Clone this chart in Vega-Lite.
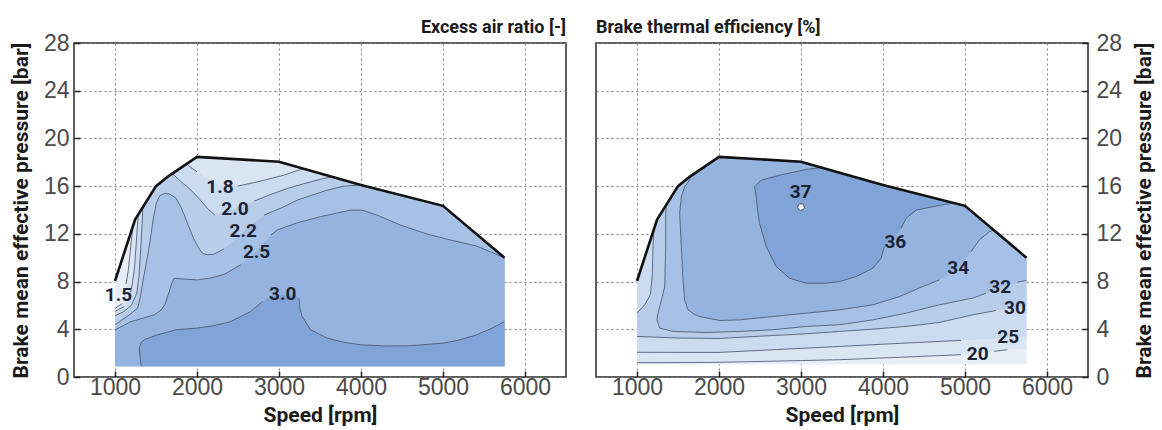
{
  "$schema": "https://vega.github.io/schema/vega-lite/v6.json",
  "background": "white",
  "padding": {"left": 9, "top": 18, "right": 10, "bottom": 0},
  "autosize": {"type": "pad"},
  "config": {
    "view": {"stroke": "#2a2a2a", "strokeWidth": 1.5},
    "axis": {
      "grid": true, "gridColor": "#808080", "gridDash": [2, 3], "gridWidth": 1,
      "domain": false, "ticks": true, "tickSize": -6, "tickColor": "#222222", "tickWidth": 1.5,
      "labelFont": "Liberation Sans", "labelFontSize": 23, "labelColor": "#4a4a4a", "labelFontWeight": "normal",
      "titleFont": "Roboto", "titleFontSize": 21, "titleFontWeight": "bold", "titleColor": "#1a1a1a",
      "zindex": 1
    },
    "title": {"font": "Roboto", "fontSize": 18, "fontWeight": "bold", "color": "#1a1a1a", "frame": "group"}
  },
  "datasets": {
    "pl": [
      {"p":"L0","o":0,"x":1000,"y":0.9},{"p":"L0","o":1,"x":1000,"y":8.05},{"p":"L0","o":2,"x":1245,"y":13.2},{"p":"L0","o":3,"x":1500,"y":16.0},{"p":"L0","o":4,"x":1645,"y":16.8},{"p":"L0","o":5,"x":2000,"y":18.45},{"p":"L0","o":6,"x":3000,"y":18.05},{"p":"L0","o":7,"x":4000,"y":16.1},{"p":"L0","o":8,"x":5000,"y":14.35},{"p":"L0","o":9,"x":5750,"y":10.0},{"p":"L0","o":10,"x":5750,"y":0.9},

      {"p":"L1","o":0,"x":1000,"y":0.9},{"p":"L1","o":1,"x":1000,"y":5.75},{"p":"L1","o":2,"x":1090,"y":6.15},{"p":"L1","o":3,"x":1120,"y":7.0},{"p":"L1","o":4,"x":1140,"y":8.2},{"p":"L1","o":5,"x":1163,"y":9.0},{"p":"L1","o":6,"x":1185,"y":10.5},{"p":"L1","o":7,"x":1205,"y":11.8},{"p":"L1","o":8,"x":1225,"y":12.78},{"p":"L1","o":9,"x":1245,"y":13.2},{"p":"L1","o":10,"x":1500,"y":16.0},{"p":"L1","o":11,"x":1645,"y":16.8},{"p":"L1","o":12,"x":2000,"y":18.45},{"p":"L1","o":13,"x":3000,"y":18.05},{"p":"L1","o":14,"x":4000,"y":16.1},{"p":"L1","o":15,"x":5000,"y":14.35},{"p":"L1","o":16,"x":5750,"y":10.0},{"p":"L1","o":17,"x":5750,"y":0.9},

      {"p":"L2","o":0,"x":1000,"y":0.9},{"p":"L2","o":1,"x":1000,"y":5.5},{"p":"L2","o":2,"x":1110,"y":5.9},{"p":"L2","o":3,"x":1170,"y":6.6},{"p":"L2","o":4,"x":1210,"y":7.8},{"p":"L2","o":5,"x":1236,"y":9.0},{"p":"L2","o":6,"x":1256,"y":10.9},{"p":"L2","o":7,"x":1272,"y":12.5},{"p":"L2","o":8,"x":1285,"y":13.64},{"p":"L2","o":9,"x":1500,"y":16.0},{"p":"L2","o":10,"x":1645,"y":16.8},{"p":"L2","o":11,"x":1870,"y":17.85},{"p":"L2","o":12,"x":2000,"y":17.2},{"p":"L2","o":13,"x":2100,"y":16.7},{"p":"L2","o":14,"x":2270,"y":16.1},{"p":"L2","o":15,"x":2493,"y":16.0},{"p":"L2","o":16,"x":2736,"y":16.36},{"p":"L2","o":17,"x":3060,"y":16.92},{"p":"L2","o":18,"x":3243,"y":17.35},{"p":"L2","o":19,"x":3300,"y":17.47},{"p":"L2","o":20,"x":4000,"y":16.1},{"p":"L2","o":21,"x":5000,"y":14.35},{"p":"L2","o":22,"x":5750,"y":10.0},{"p":"L2","o":23,"x":5750,"y":0.9},

      {"p":"L3","o":0,"x":1000,"y":0.9},{"p":"L3","o":1,"x":1000,"y":5.15},{"p":"L3","o":2,"x":1100,"y":5.45},{"p":"L3","o":3,"x":1200,"y":6.0},{"p":"L3","o":4,"x":1265,"y":7.0},{"p":"L3","o":5,"x":1292,"y":8.4},{"p":"L3","o":6,"x":1315,"y":10.9},{"p":"L3","o":7,"x":1332,"y":13.0},{"p":"L3","o":8,"x":1340,"y":14.24},{"p":"L3","o":9,"x":1500,"y":16.0},{"p":"L3","o":10,"x":1645,"y":16.8},{"p":"L3","o":11,"x":1700,"y":17.06},{"p":"L3","o":12,"x":1722,"y":16.92},{"p":"L3","o":13,"x":1800,"y":16.4},{"p":"L3","o":14,"x":1884,"y":15.94},{"p":"L3","o":15,"x":2006,"y":15.1},{"p":"L3","o":16,"x":2128,"y":14.13},{"p":"L3","o":17,"x":2217,"y":13.57},{"p":"L3","o":18,"x":2452,"y":14.1},{"p":"L3","o":19,"x":2695,"y":14.74},{"p":"L3","o":20,"x":2898,"y":15.3},{"p":"L3","o":21,"x":3100,"y":15.8},{"p":"L3","o":22,"x":3300,"y":16.2},{"p":"L3","o":23,"x":3547,"y":16.65},{"p":"L3","o":24,"x":3650,"y":16.78},{"p":"L3","o":25,"x":4000,"y":16.1},{"p":"L3","o":26,"x":5000,"y":14.35},{"p":"L3","o":27,"x":5750,"y":10.0},{"p":"L3","o":28,"x":5750,"y":0.9},

      {"p":"L4","o":0,"x":1000,"y":0.9},{"p":"L4","o":1,"x":1000,"y":4.4},{"p":"L4","o":2,"x":1032,"y":4.52},{"p":"L4","o":3,"x":1174,"y":5.21},{"p":"L4","o":4,"x":1276,"y":5.77},{"p":"L4","o":5,"x":1305,"y":6.6},{"p":"L4","o":6,"x":1340,"y":8.0},{"p":"L4","o":7,"x":1385,"y":9.7},{"p":"L4","o":8,"x":1425,"y":11.3},{"p":"L4","o":9,"x":1465,"y":13.2},{"p":"L4","o":10,"x":1505,"y":14.6},{"p":"L4","o":11,"x":1545,"y":15.2},{"p":"L4","o":12,"x":1600,"y":15.38},{"p":"L4","o":13,"x":1660,"y":15.35},{"p":"L4","o":14,"x":1743,"y":15.0},{"p":"L4","o":15,"x":1800,"y":14.3},{"p":"L4","o":16,"x":1844,"y":13.6},{"p":"L4","o":17,"x":1900,"y":12.6},{"p":"L4","o":18,"x":1960,"y":11.6},{"p":"L4","o":19,"x":2020,"y":10.8},{"p":"L4","o":20,"x":2070,"y":10.35},{"p":"L4","o":21,"x":2120,"y":10.25},{"p":"L4","o":22,"x":2209,"y":10.3},{"p":"L4","o":23,"x":2331,"y":10.75},{"p":"L4","o":24,"x":2574,"y":12.2},{"p":"L4","o":25,"x":2817,"y":13.57},{"p":"L4","o":26,"x":3060,"y":14.27},{"p":"L4","o":27,"x":3222,"y":14.83},{"p":"L4","o":28,"x":3587,"y":15.66},{"p":"L4","o":29,"x":3790,"y":16.0},{"p":"L4","o":30,"x":4000,"y":16.1},{"p":"L4","o":31,"x":5000,"y":14.35},{"p":"L4","o":32,"x":5750,"y":10.0},{"p":"L4","o":33,"x":5750,"y":0.9},

      {"p":"L5","o":0,"x":1000,"y":0.9},{"p":"L5","o":1,"x":1000,"y":3.96},{"p":"L5","o":2,"x":1100,"y":4.3},{"p":"L5","o":3,"x":1195,"y":4.65},{"p":"L5","o":4,"x":1350,"y":4.95},{"p":"L5","o":5,"x":1479,"y":5.21},{"p":"L5","o":6,"x":1560,"y":5.6},{"p":"L5","o":7,"x":1610,"y":6.1},{"p":"L5","o":8,"x":1645,"y":6.8},{"p":"L5","o":9,"x":1690,"y":7.8},{"p":"L5","o":10,"x":1722,"y":8.28},{"p":"L5","o":11,"x":1850,"y":8.2},{"p":"L5","o":12,"x":2006,"y":8.14},{"p":"L5","o":13,"x":2170,"y":8.3},{"p":"L5","o":14,"x":2331,"y":8.6},{"p":"L5","o":15,"x":2533,"y":9.4},{"p":"L5","o":16,"x":2716,"y":10.5},{"p":"L5","o":17,"x":2900,"y":11.9},{"p":"L5","o":18,"x":2979,"y":12.32},{"p":"L5","o":19,"x":3222,"y":12.93},{"p":"L5","o":20,"x":3506,"y":13.44},{"p":"L5","o":21,"x":3871,"y":13.99},{"p":"L5","o":22,"x":4013,"y":13.99},{"p":"L5","o":23,"x":4196,"y":13.57},{"p":"L5","o":24,"x":4479,"y":12.74},{"p":"L5","o":25,"x":4804,"y":11.99},{"p":"L5","o":26,"x":5088,"y":11.49},{"p":"L5","o":27,"x":5412,"y":10.98},{"p":"L5","o":28,"x":5750,"y":10.0},{"p":"L5","o":29,"x":5750,"y":0.9},

      {"p":"L6","o":0,"x":1317,"y":0.9},{"p":"L6","o":1,"x":1317,"y":1.03},{"p":"L6","o":2,"x":1300,"y":2.0},{"p":"L6","o":3,"x":1296,"y":2.42},{"p":"L6","o":4,"x":1320,"y":2.9},{"p":"L6","o":5,"x":1357,"y":3.12},{"p":"L6","o":6,"x":1500,"y":3.5},{"p":"L6","o":7,"x":1743,"y":3.96},{"p":"L6","o":8,"x":2006,"y":4.1},{"p":"L6","o":9,"x":2200,"y":4.3},{"p":"L6","o":10,"x":2412,"y":4.65},{"p":"L6","o":11,"x":2655,"y":5.49},{"p":"L6","o":12,"x":2797,"y":6.33},{"p":"L6","o":13,"x":2900,"y":6.8},{"p":"L6","o":14,"x":3050,"y":6.9},{"p":"L6","o":15,"x":3200,"y":6.85},{"p":"L6","o":16,"x":3243,"y":6.6},{"p":"L6","o":17,"x":3255,"y":5.77},{"p":"L6","o":18,"x":3283,"y":5.07},{"p":"L6","o":19,"x":3385,"y":3.96},{"p":"L6","o":20,"x":3587,"y":3.26},{"p":"L6","o":21,"x":3800,"y":2.9},{"p":"L6","o":22,"x":3993,"y":2.7},{"p":"L6","o":23,"x":4300,"y":2.6},{"p":"L6","o":24,"x":4601,"y":2.62},{"p":"L6","o":25,"x":5007,"y":2.84},{"p":"L6","o":26,"x":5200,"y":3.1},{"p":"L6","o":27,"x":5412,"y":3.54},{"p":"L6","o":28,"x":5600,"y":4.1},{"p":"L6","o":29,"x":5750,"y":4.66},{"p":"L6","o":30,"x":5750,"y":0.9}
    ],
    "ll": [
      {"s":"a1","o":0,"x":1000,"y":5.75},{"s":"a1","o":1,"x":1090,"y":6.15},
      {"s":"a2","o":0,"x":1135,"y":7.8},{"s":"a2","o":1,"x":1163,"y":9.0},{"s":"a2","o":2,"x":1185,"y":10.5},{"s":"a2","o":3,"x":1205,"y":11.8},{"s":"a2","o":4,"x":1225,"y":12.78},
      {"s":"b1","o":0,"x":1000,"y":5.5},{"s":"b1","o":1,"x":1110,"y":5.9},
      {"s":"b2","o":0,"x":1190,"y":7.1},{"s":"b2","o":1,"x":1210,"y":7.8},{"s":"b2","o":2,"x":1236,"y":9.0},{"s":"b2","o":3,"x":1256,"y":10.9},{"s":"b2","o":4,"x":1272,"y":12.5},{"s":"b2","o":5,"x":1285,"y":13.64},
      {"s":"c","o":0,"x":1000,"y":5.15},{"s":"c","o":1,"x":1100,"y":5.45},{"s":"c","o":2,"x":1200,"y":6.0},{"s":"c","o":3,"x":1265,"y":7.0},{"s":"c","o":4,"x":1292,"y":8.4},{"s":"c","o":5,"x":1315,"y":10.9},{"s":"c","o":6,"x":1332,"y":13.0},{"s":"c","o":7,"x":1340,"y":14.24},
      {"s":"f1","o":0,"x":1870,"y":17.85},{"s":"f1","o":1,"x":2000,"y":17.2},
      {"s":"f2","o":0,"x":2493,"y":16.0},{"s":"f2","o":1,"x":2736,"y":16.36},{"s":"f2","o":2,"x":3060,"y":16.92},{"s":"f2","o":3,"x":3243,"y":17.35},{"s":"f2","o":4,"x":3300,"y":17.47},
      {"s":"e1","o":0,"x":1700,"y":17.06},{"s":"e1","o":1,"x":1722,"y":16.92},{"s":"e1","o":2,"x":1800,"y":16.4},{"s":"e1","o":3,"x":1884,"y":15.94},{"s":"e1","o":4,"x":2006,"y":15.1},{"s":"e1","o":5,"x":2128,"y":14.13},{"s":"e1","o":6,"x":2217,"y":13.57},
      {"s":"e2","o":0,"x":2695,"y":14.74},{"s":"e2","o":1,"x":2898,"y":15.3},{"s":"e2","o":2,"x":3100,"y":15.8},{"s":"e2","o":3,"x":3300,"y":16.2},{"s":"e2","o":4,"x":3547,"y":16.65},{"s":"e2","o":5,"x":3650,"y":16.78},
      {"s":"g1","o":0,"x":1000,"y":4.4},{"s":"g1","o":1,"x":1032,"y":4.52},{"s":"g1","o":2,"x":1174,"y":5.21},{"s":"g1","o":3,"x":1276,"y":5.77},{"s":"g1","o":4,"x":1305,"y":6.6},{"s":"g1","o":5,"x":1340,"y":8.0},{"s":"g1","o":6,"x":1385,"y":9.7},{"s":"g1","o":7,"x":1425,"y":11.3},{"s":"g1","o":8,"x":1465,"y":13.2},{"s":"g1","o":9,"x":1505,"y":14.6},{"s":"g1","o":10,"x":1545,"y":15.2},{"s":"g1","o":11,"x":1600,"y":15.38},{"s":"g1","o":12,"x":1660,"y":15.35},{"s":"g1","o":13,"x":1743,"y":15.0},{"s":"g1","o":14,"x":1800,"y":14.3},{"s":"g1","o":15,"x":1844,"y":13.6},{"s":"g1","o":16,"x":1900,"y":12.6},{"s":"g1","o":17,"x":1960,"y":11.6},{"s":"g1","o":18,"x":2020,"y":10.8},{"s":"g1","o":19,"x":2070,"y":10.35},{"s":"g1","o":20,"x":2120,"y":10.25},{"s":"g1","o":21,"x":2209,"y":10.3},{"s":"g1","o":22,"x":2331,"y":10.75},
      {"s":"g2","o":0,"x":2817,"y":13.57},{"s":"g2","o":1,"x":3060,"y":14.27},{"s":"g2","o":2,"x":3222,"y":14.83},{"s":"g2","o":3,"x":3587,"y":15.66},{"s":"g2","o":4,"x":3790,"y":16.0},{"s":"g2","o":5,"x":4000,"y":16.1},
      {"s":"h1","o":0,"x":1000,"y":3.96},{"s":"h1","o":1,"x":1100,"y":4.3},{"s":"h1","o":2,"x":1195,"y":4.65},{"s":"h1","o":3,"x":1350,"y":4.95},{"s":"h1","o":4,"x":1479,"y":5.21},{"s":"h1","o":5,"x":1560,"y":5.6},{"s":"h1","o":6,"x":1610,"y":6.1},{"s":"h1","o":7,"x":1645,"y":6.8},{"s":"h1","o":8,"x":1690,"y":7.8},{"s":"h1","o":9,"x":1722,"y":8.28},{"s":"h1","o":10,"x":1850,"y":8.2},{"s":"h1","o":11,"x":2006,"y":8.14},{"s":"h1","o":12,"x":2170,"y":8.3},{"s":"h1","o":13,"x":2331,"y":8.6},{"s":"h1","o":14,"x":2533,"y":9.4},
      {"s":"h2","o":0,"x":2900,"y":11.9},{"s":"h2","o":1,"x":2979,"y":12.32},{"s":"h2","o":2,"x":3222,"y":12.93},{"s":"h2","o":3,"x":3506,"y":13.44},{"s":"h2","o":4,"x":3871,"y":13.99},{"s":"h2","o":5,"x":4013,"y":13.99},{"s":"h2","o":6,"x":4196,"y":13.57},{"s":"h2","o":7,"x":4479,"y":12.74},{"s":"h2","o":8,"x":4804,"y":11.99},{"s":"h2","o":9,"x":5088,"y":11.49},{"s":"h2","o":10,"x":5412,"y":10.98},{"s":"h2","o":11,"x":5750,"y":10.0},
      {"s":"k1","o":0,"x":1317,"y":0.9},{"s":"k1","o":1,"x":1317,"y":1.03},{"s":"k1","o":2,"x":1300,"y":2.0},{"s":"k1","o":3,"x":1296,"y":2.42},{"s":"k1","o":4,"x":1320,"y":2.9},{"s":"k1","o":5,"x":1357,"y":3.12},{"s":"k1","o":6,"x":1500,"y":3.5},{"s":"k1","o":7,"x":1743,"y":3.96},{"s":"k1","o":8,"x":2006,"y":4.1},{"s":"k1","o":9,"x":2200,"y":4.3},{"s":"k1","o":10,"x":2412,"y":4.65},{"s":"k1","o":11,"x":2655,"y":5.49},{"s":"k1","o":12,"x":2797,"y":6.33},
      {"s":"k2","o":0,"x":3243,"y":6.6},{"s":"k2","o":1,"x":3255,"y":5.77},{"s":"k2","o":2,"x":3283,"y":5.07},{"s":"k2","o":3,"x":3385,"y":3.96},{"s":"k2","o":4,"x":3587,"y":3.26},{"s":"k2","o":5,"x":3800,"y":2.9},{"s":"k2","o":6,"x":3993,"y":2.7},{"s":"k2","o":7,"x":4300,"y":2.6},{"s":"k2","o":8,"x":4601,"y":2.62},{"s":"k2","o":9,"x":5007,"y":2.84},{"s":"k2","o":10,"x":5200,"y":3.1},{"s":"k2","o":11,"x":5412,"y":3.54},{"s":"k2","o":12,"x":5600,"y":4.1},{"s":"k2","o":13,"x":5750,"y":4.66}
    ],
    "tl": [
      {"t":"1.5","x":1043,"y":6.9},{"t":"1.8","x":2280,"y":15.95},{"t":"2.0","x":2462,"y":14.1},{"t":"2.2","x":2564,"y":12.2},{"t":"2.5","x":2726,"y":10.5},{"t":"3.0","x":3046,"y":6.95}
    ],
    "fl": [
      {"o":0,"x":1000,"y":8.05},{"o":1,"x":1245,"y":13.2},{"o":2,"x":1500,"y":16.0},{"o":3,"x":1645,"y":16.8},{"o":4,"x":2000,"y":18.45},{"o":5,"x":3000,"y":18.05},{"o":6,"x":4000,"y":16.1},{"o":7,"x":5000,"y":14.35},{"o":8,"x":5750,"y":10.0}
    ],
    "pr": [
      {"p":"R0","o":0,"x":1000,"y":1.05},{"p":"R0","o":1,"x":1000,"y":8.05},{"p":"R0","o":2,"x":1245,"y":13.2},{"p":"R0","o":3,"x":1500,"y":16.0},{"p":"R0","o":4,"x":1645,"y":16.8},{"p":"R0","o":5,"x":2000,"y":18.45},{"p":"R0","o":6,"x":3000,"y":18.05},{"p":"R0","o":7,"x":4000,"y":16.1},{"p":"R0","o":8,"x":5000,"y":14.35},{"p":"R0","o":9,"x":5750,"y":10.0},{"p":"R0","o":10,"x":5750,"y":1.05},

      {"p":"R1","o":0,"x":1000,"y":1.2},{"p":"R1","o":1,"x":1500,"y":1.21},{"p":"R1","o":2,"x":2000,"y":1.23},{"p":"R1","o":3,"x":2700,"y":1.33},{"p":"R1","o":4,"x":3469,"y":1.45},{"p":"R1","o":5,"x":4200,"y":1.65},{"p":"R1","o":6,"x":4951,"y":1.87},{"p":"R1","o":7,"x":5134,"y":1.97},{"p":"R1","o":8,"x":5357,"y":2.15},{"p":"R1","o":9,"x":5519,"y":2.29},{"p":"R1","o":10,"x":5750,"y":2.35},{"p":"R1","o":11,"x":5750,"y":10.0},{"p":"R1","o":12,"x":5000,"y":14.35},{"p":"R1","o":13,"x":4000,"y":16.1},{"p":"R1","o":14,"x":3000,"y":18.05},{"p":"R1","o":15,"x":2000,"y":18.45},{"p":"R1","o":16,"x":1645,"y":16.8},{"p":"R1","o":17,"x":1500,"y":16.0},{"p":"R1","o":18,"x":1245,"y":13.2},{"p":"R1","o":19,"x":1000,"y":8.05},

      {"p":"R2","o":0,"x":1000,"y":2.07},{"p":"R2","o":1,"x":2000,"y":2.06},{"p":"R2","o":2,"x":2700,"y":2.3},{"p":"R2","o":3,"x":3469,"y":2.56},{"p":"R2","o":4,"x":4200,"y":2.82},{"p":"R2","o":5,"x":4951,"y":3.07},{"p":"R2","o":6,"x":5519,"y":3.3},{"p":"R2","o":7,"x":5750,"y":3.4},{"p":"R2","o":8,"x":5750,"y":10.0},{"p":"R2","o":9,"x":5000,"y":14.35},{"p":"R2","o":10,"x":4000,"y":16.1},{"p":"R2","o":11,"x":3000,"y":18.05},{"p":"R2","o":12,"x":2000,"y":18.45},{"p":"R2","o":13,"x":1645,"y":16.8},{"p":"R2","o":14,"x":1500,"y":16.0},{"p":"R2","o":15,"x":1245,"y":13.2},{"p":"R2","o":16,"x":1000,"y":8.05},

      {"p":"R3","o":0,"x":1000,"y":3.4},{"p":"R3","o":1,"x":1500,"y":3.27},{"p":"R3","o":2,"x":2000,"y":3.23},{"p":"R3","o":3,"x":2657,"y":3.48},{"p":"R3","o":4,"x":3063,"y":3.62},{"p":"R3","o":5,"x":3469,"y":3.82},{"p":"R3","o":6,"x":3875,"y":4.01},{"p":"R3","o":7,"x":4281,"y":4.24},{"p":"R3","o":8,"x":4687,"y":4.57},{"p":"R3","o":9,"x":5093,"y":5.21},{"p":"R3","o":10,"x":5377,"y":5.57},{"p":"R3","o":11,"x":5600,"y":5.8},{"p":"R3","o":12,"x":5750,"y":6.0},{"p":"R3","o":13,"x":5750,"y":10.0},{"p":"R3","o":14,"x":5000,"y":14.35},{"p":"R3","o":15,"x":4000,"y":16.1},{"p":"R3","o":16,"x":3000,"y":18.05},{"p":"R3","o":17,"x":2000,"y":18.45},{"p":"R3","o":18,"x":1645,"y":16.8},{"p":"R3","o":19,"x":1500,"y":16.0},{"p":"R3","o":20,"x":1245,"y":13.2},{"p":"R3","o":21,"x":1207,"y":12.4},{"p":"R3","o":22,"x":1195,"y":11.0},{"p":"R3","o":23,"x":1187,"y":8.56},{"p":"R3","o":24,"x":1163,"y":6.89},{"p":"R3","o":25,"x":1093,"y":6.05},{"p":"R3","o":26,"x":1000,"y":5.35},

      {"p":"R4","o":0,"x":1358,"y":14.44},{"p":"R4","o":1,"x":1350,"y":13.71},{"p":"R4","o":2,"x":1350,"y":10.93},{"p":"R4","o":3,"x":1338,"y":7.58},{"p":"R4","o":4,"x":1300,"y":6.5},{"p":"R4","o":5,"x":1277,"y":5.91},{"p":"R4","o":6,"x":1250,"y":5.2},{"p":"R4","o":7,"x":1244,"y":4.79},{"p":"R4","o":8,"x":1277,"y":4.1},{"p":"R4","o":9,"x":1439,"y":3.82},{"p":"R4","o":10,"x":1845,"y":3.73},{"p":"R4","o":11,"x":2251,"y":3.82},{"p":"R4","o":12,"x":2657,"y":3.96},{"p":"R4","o":13,"x":3063,"y":4.24},{"p":"R4","o":14,"x":3469,"y":4.38},{"p":"R4","o":15,"x":3875,"y":4.79},{"p":"R4","o":16,"x":4281,"y":5.35},{"p":"R4","o":17,"x":4687,"y":6.05},{"p":"R4","o":18,"x":5093,"y":6.61},{"p":"R4","o":19,"x":5255,"y":7.02},{"p":"R4","o":20,"x":5418,"y":7.5},{"p":"R4","o":21,"x":5640,"y":7.95},{"p":"R4","o":22,"x":5750,"y":8.1},{"p":"R4","o":23,"x":5750,"y":10.0},{"p":"R4","o":24,"x":5000,"y":14.35},{"p":"R4","o":25,"x":4000,"y":16.1},{"p":"R4","o":26,"x":3000,"y":18.05},{"p":"R4","o":27,"x":2000,"y":18.45},{"p":"R4","o":28,"x":1645,"y":16.8},{"p":"R4","o":29,"x":1500,"y":16.0},

      {"p":"R5","o":0,"x":1655,"y":16.85},{"p":"R5","o":1,"x":1630,"y":16.4},{"p":"R5","o":2,"x":1581,"y":15.94},{"p":"R5","o":3,"x":1541,"y":15.1},{"p":"R5","o":4,"x":1520,"y":13.71},{"p":"R5","o":5,"x":1541,"y":10.93},{"p":"R5","o":6,"x":1561,"y":8.14},{"p":"R5","o":7,"x":1581,"y":6.47},{"p":"R5","o":8,"x":1622,"y":5.63},{"p":"R5","o":9,"x":1700,"y":5.25},{"p":"R5","o":10,"x":1764,"y":5.07},{"p":"R5","o":11,"x":2007,"y":4.74},{"p":"R5","o":12,"x":2251,"y":4.79},{"p":"R5","o":13,"x":2657,"y":5.07},{"p":"R5","o":14,"x":3063,"y":5.35},{"p":"R5","o":15,"x":3469,"y":5.63},{"p":"R5","o":16,"x":3875,"y":6.05},{"p":"R5","o":17,"x":4200,"y":6.74},{"p":"R5","o":18,"x":4484,"y":7.58},{"p":"R5","o":19,"x":4687,"y":8.14},{"p":"R5","o":20,"x":4917,"y":9.2},{"p":"R5","o":21,"x":5073,"y":10.5},{"p":"R5","o":22,"x":5174,"y":11.48},{"p":"R5","o":23,"x":5296,"y":12.18},{"p":"R5","o":24,"x":5350,"y":12.32},{"p":"R5","o":25,"x":5000,"y":14.35},{"p":"R5","o":26,"x":4000,"y":16.1},{"p":"R5","o":27,"x":3000,"y":18.05},{"p":"R5","o":28,"x":2000,"y":18.45},

      {"p":"R6","o":0,"x":3250,"y":17.56},{"p":"R6","o":1,"x":3063,"y":17.4},{"p":"R6","o":2,"x":2738,"y":16.92},{"p":"R6","o":3,"x":2515,"y":16.5},{"p":"R6","o":4,"x":2434,"y":15.94},{"p":"R6","o":5,"x":2454,"y":15.1},{"p":"R6","o":6,"x":2470,"y":14.0},{"p":"R6","o":7,"x":2495,"y":12.88},{"p":"R6","o":8,"x":2576,"y":10.93},{"p":"R6","o":9,"x":2698,"y":9.25},{"p":"R6","o":10,"x":2860,"y":8.28},{"p":"R6","o":11,"x":3063,"y":7.86},{"p":"R6","o":12,"x":3307,"y":7.86},{"p":"R6","o":13,"x":3469,"y":8.0},{"p":"R6","o":14,"x":3672,"y":8.42},{"p":"R6","o":15,"x":3875,"y":9.11},{"p":"R6","o":16,"x":3977,"y":9.95},{"p":"R6","o":17,"x":4017,"y":10.93},{"p":"R6","o":18,"x":4139,"y":11.7},{"p":"R6","o":19,"x":4220,"y":12.46},{"p":"R6","o":20,"x":4281,"y":13.3},{"p":"R6","o":21,"x":4403,"y":13.99},{"p":"R6","o":22,"x":4646,"y":14.33},{"p":"R6","o":23,"x":4780,"y":14.5},{"p":"R6","o":24,"x":4880,"y":14.56},{"p":"R6","o":25,"x":4000,"y":16.1}
    ],
    "lr": [
      {"s":"r20a","o":0,"x":1000,"y":1.2},{"s":"r20a","o":1,"x":1500,"y":1.21},{"s":"r20a","o":2,"x":2000,"y":1.23},{"s":"r20a","o":3,"x":2700,"y":1.33},{"s":"r20a","o":4,"x":3469,"y":1.45},{"s":"r20a","o":5,"x":4200,"y":1.65},{"s":"r20a","o":6,"x":4951,"y":1.87},
      {"s":"r20b","o":0,"x":5357,"y":2.15},{"s":"r20b","o":1,"x":5519,"y":2.29},
      {"s":"r25","o":0,"x":1000,"y":2.07},{"s":"r25","o":1,"x":2000,"y":2.06},{"s":"r25","o":2,"x":2700,"y":2.3},{"s":"r25","o":3,"x":3469,"y":2.56},{"s":"r25","o":4,"x":4200,"y":2.82},{"s":"r25","o":5,"x":4951,"y":3.07},
      {"s":"r30a","o":0,"x":1000,"y":3.4},{"s":"r30a","o":1,"x":1500,"y":3.27},{"s":"r30a","o":2,"x":2000,"y":3.23},{"s":"r30a","o":3,"x":2657,"y":3.48},{"s":"r30a","o":4,"x":3063,"y":3.62},{"s":"r30a","o":5,"x":3469,"y":3.82},{"s":"r30a","o":6,"x":3875,"y":4.01},{"s":"r30a","o":7,"x":4281,"y":4.24},{"s":"r30a","o":8,"x":4687,"y":4.57},{"s":"r30a","o":9,"x":5093,"y":5.21},{"s":"r30a","o":10,"x":5377,"y":5.57},
      {"s":"r30b","o":0,"x":1000,"y":5.35},{"s":"r30b","o":1,"x":1093,"y":6.05},{"s":"r30b","o":2,"x":1163,"y":6.89},{"s":"r30b","o":3,"x":1187,"y":8.56},{"s":"r30b","o":4,"x":1195,"y":11.0},{"s":"r30b","o":5,"x":1207,"y":12.4},
      {"s":"r32a","o":0,"x":1358,"y":14.44},{"s":"r32a","o":1,"x":1350,"y":13.71},{"s":"r32a","o":2,"x":1350,"y":10.93},{"s":"r32a","o":3,"x":1338,"y":7.58},{"s":"r32a","o":4,"x":1300,"y":6.5},{"s":"r32a","o":5,"x":1277,"y":5.91},{"s":"r32a","o":6,"x":1250,"y":5.2},{"s":"r32a","o":7,"x":1244,"y":4.79},{"s":"r32a","o":8,"x":1277,"y":4.1},{"s":"r32a","o":9,"x":1439,"y":3.82},{"s":"r32a","o":10,"x":1845,"y":3.73},{"s":"r32a","o":11,"x":2251,"y":3.82},{"s":"r32a","o":12,"x":2657,"y":3.96},{"s":"r32a","o":13,"x":3063,"y":4.24},{"s":"r32a","o":14,"x":3469,"y":4.38},{"s":"r32a","o":15,"x":3875,"y":4.79},{"s":"r32a","o":16,"x":4281,"y":5.35},{"s":"r32a","o":17,"x":4687,"y":6.05},{"s":"r32a","o":18,"x":5093,"y":6.61},{"s":"r32a","o":19,"x":5255,"y":7.02},
      {"s":"r32b","o":0,"x":5640,"y":7.95},{"s":"r32b","o":1,"x":5750,"y":8.1},
      {"s":"r34a","o":0,"x":1655,"y":16.85},{"s":"r34a","o":1,"x":1630,"y":16.4},{"s":"r34a","o":2,"x":1581,"y":15.94},{"s":"r34a","o":3,"x":1541,"y":15.1},{"s":"r34a","o":4,"x":1520,"y":13.71},{"s":"r34a","o":5,"x":1541,"y":10.93},{"s":"r34a","o":6,"x":1561,"y":8.14},{"s":"r34a","o":7,"x":1581,"y":6.47},{"s":"r34a","o":8,"x":1622,"y":5.63},{"s":"r34a","o":9,"x":1700,"y":5.25},{"s":"r34a","o":10,"x":1764,"y":5.07},{"s":"r34a","o":11,"x":2007,"y":4.74},{"s":"r34a","o":12,"x":2251,"y":4.79},{"s":"r34a","o":13,"x":2657,"y":5.07},{"s":"r34a","o":14,"x":3063,"y":5.35},{"s":"r34a","o":15,"x":3469,"y":5.63},{"s":"r34a","o":16,"x":3875,"y":6.05},{"s":"r34a","o":17,"x":4200,"y":6.74},{"s":"r34a","o":18,"x":4484,"y":7.58},{"s":"r34a","o":19,"x":4687,"y":8.14},
      {"s":"r34b","o":0,"x":5073,"y":10.5},{"s":"r34b","o":1,"x":5174,"y":11.48},{"s":"r34b","o":2,"x":5296,"y":12.18},{"s":"r34b","o":3,"x":5350,"y":12.32},
      {"s":"r36a","o":0,"x":3250,"y":17.56},{"s":"r36a","o":1,"x":3063,"y":17.4},{"s":"r36a","o":2,"x":2738,"y":16.92},{"s":"r36a","o":3,"x":2515,"y":16.5},{"s":"r36a","o":4,"x":2434,"y":15.94},{"s":"r36a","o":5,"x":2454,"y":15.1},{"s":"r36a","o":6,"x":2470,"y":14.0},{"s":"r36a","o":7,"x":2495,"y":12.88},{"s":"r36a","o":8,"x":2576,"y":10.93},{"s":"r36a","o":9,"x":2698,"y":9.25},{"s":"r36a","o":10,"x":2860,"y":8.28},{"s":"r36a","o":11,"x":3063,"y":7.86},{"s":"r36a","o":12,"x":3307,"y":7.86},{"s":"r36a","o":13,"x":3469,"y":8.0},{"s":"r36a","o":14,"x":3672,"y":8.42},{"s":"r36a","o":15,"x":3875,"y":9.11},{"s":"r36a","o":16,"x":3977,"y":9.95},{"s":"r36a","o":17,"x":4017,"y":10.93},
      {"s":"r36b","o":0,"x":4220,"y":12.46},{"s":"r36b","o":1,"x":4281,"y":13.3},{"s":"r36b","o":2,"x":4403,"y":13.99},{"s":"r36b","o":3,"x":4646,"y":14.33},{"s":"r36b","o":4,"x":4780,"y":14.5},{"s":"r36b","o":5,"x":4880,"y":14.56}
    ],
    "tr": [
      {"t":"37","x":2995,"y":15.55},{"t":"36","x":4150,"y":11.35},{"t":"34","x":4917,"y":9.1},{"t":"32","x":5430,"y":7.55},{"t":"30","x":5610,"y":5.8},{"t":"25","x":5527,"y":3.35},{"t":"20","x":5155,"y":1.9}
    ],
    "pt": [{"x":3000,"y":14.25}]
  },
  "hconcat": [
    {
      "width": 492, "height": 334,
      "title": {"text": "Excess air ratio [-]", "anchor": "end", "offset": -5},
      "layer": [
        {
          "data": {"name": "pl"},
          "mark": {"type": "line", "filled": true, "strokeWidth": 0, "strokeOpacity": 0},
          "encoding": {
            "x": {"field": "x", "type": "quantitative", "scale": {"domain": [500, 6500], "nice": false, "zero": false},
                  "axis": {"title": "Speed [rpm]", "values": [1000, 2000, 3000, 4000, 5000, 6000], "format": "d", "labelPadding": 5, "titlePadding": 5}},
            "y": {"field": "y", "type": "quantitative", "scale": {"domain": [0, 28], "nice": false},
                  "axis": {"title": "Brake mean effective pressure [bar]", "values": [0, 4, 8, 12, 16, 20, 24, 28], "labelPadding": 11, "titlePadding": 12}},
            "color": {"field": "p", "type": "nominal", "legend": null,
                      "scale": {"domain": ["L0","L1","L2","L3","L4","L5","L6"], "range": ["#e7eef8","#dae5f4","#cbdbf0","#b8cdea","#a6c1e5","#94b3df","#80a4d7"]}},
            "order": {"field": "o", "type": "quantitative"}
          }
        },
        {
          "data": {"name": "ll"},
          "mark": {"type": "line", "color": "#4a5870", "strokeWidth": 0.85},
          "encoding": {
            "x": {"field": "x", "type": "quantitative"},
            "y": {"field": "y", "type": "quantitative"},
            "detail": {"field": "s", "type": "nominal"},
            "order": {"field": "o", "type": "quantitative"}
          }
        },
        {
          "data": {"name": "fl"},
          "mark": {"type": "line", "color": "#111111", "strokeWidth": 2.6},
          "encoding": {
            "x": {"field": "x", "type": "quantitative"},
            "y": {"field": "y", "type": "quantitative"},
            "order": {"field": "o", "type": "quantitative"}
          }
        },
        {
          "data": {"name": "tl"},
          "mark": {"type": "text", "font": "Roboto", "fontWeight": "bold", "fontSize": 19, "color": "#1c2334", "align": "center", "baseline": "middle"},
          "encoding": {
            "x": {"field": "x", "type": "quantitative"},
            "y": {"field": "y", "type": "quantitative"},
            "text": {"field": "t", "type": "nominal"}
          }
        }
      ]
    },
    {
      "width": 492, "height": 334,
      "title": {"text": "Brake thermal efficiency [%]", "anchor": "start", "offset": -5},
      "layer": [
        {
          "data": {"name": "pr"},
          "mark": {"type": "line", "filled": true, "strokeWidth": 0, "strokeOpacity": 0},
          "encoding": {
            "x": {"field": "x", "type": "quantitative", "scale": {"domain": [500, 6500], "nice": false, "zero": false},
                  "axis": {"title": "Speed [rpm]", "values": [1000, 2000, 3000, 4000, 5000, 6000], "format": "d", "labelPadding": 5, "titlePadding": 5}},
            "y": {"field": "y", "type": "quantitative", "scale": {"domain": [0, 28], "nice": false},
                  "axis": {"orient": "right", "title": "Brake mean effective pressure [bar]", "titleAngle": 270, "titleBaseline": "top", "values": [0, 4, 8, 12, 16, 20, 24, 28], "labelPadding": 14, "titlePadding": 12}},
            "color": {"field": "p", "type": "nominal", "legend": null,
                      "scale": {"domain": ["R0","R1","R2","R3","R4","R5","R6"], "range": ["#eef3fa","#e1e9f6","#d3e0f2","#c2d4ed","#b0c8e8","#9ebbe3","#8bafdd"]}},
            "order": {"field": "o", "type": "quantitative"}
          }
        },
        {
          "data": {"name": "lr"},
          "mark": {"type": "line", "color": "#4a5870", "strokeWidth": 0.85},
          "encoding": {
            "x": {"field": "x", "type": "quantitative"},
            "y": {"field": "y", "type": "quantitative"},
            "detail": {"field": "s", "type": "nominal"},
            "order": {"field": "o", "type": "quantitative"}
          }
        },
        {
          "data": {"name": "fl"},
          "mark": {"type": "line", "color": "#111111", "strokeWidth": 2.6},
          "encoding": {
            "x": {"field": "x", "type": "quantitative"},
            "y": {"field": "y", "type": "quantitative"},
            "order": {"field": "o", "type": "quantitative"}
          }
        },
        {
          "data": {"name": "tr"},
          "mark": {"type": "text", "font": "Roboto", "fontWeight": "bold", "fontSize": 19, "color": "#1c2334", "align": "center", "baseline": "middle"},
          "encoding": {
            "x": {"field": "x", "type": "quantitative"},
            "y": {"field": "y", "type": "quantitative"},
            "text": {"field": "t", "type": "nominal"}
          }
        },
        {
          "data": {"name": "pt"},
          "mark": {"type": "point", "filled": true, "fill": "white", "stroke": "#44536b", "strokeWidth": 1, "size": 45, "opacity": 1},
          "encoding": {
            "x": {"field": "x", "type": "quantitative"},
            "y": {"field": "y", "type": "quantitative"}
          }
        }
      ]
    }
  ],
  "spacing": 28
}
